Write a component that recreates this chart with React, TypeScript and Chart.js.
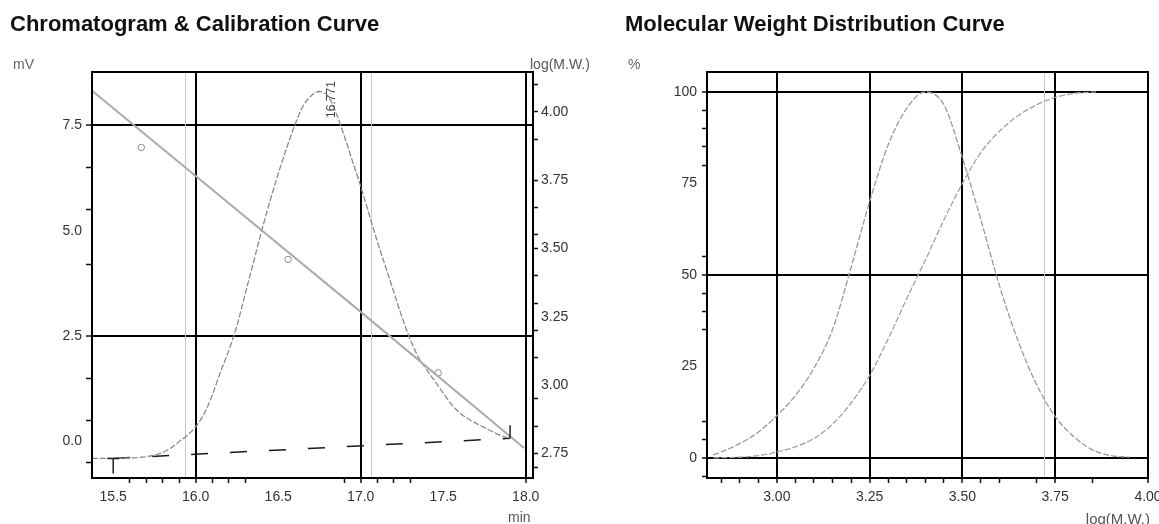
import React, { useEffect, useRef } from "react";
import { Chart, registerables } from "chart.js";

Chart.register(...registerables);

// ---------------- data: chromatogram & calibration ----------------
const chromTime = [15.37, 15.5, 15.6, 15.7, 15.75, 15.8, 15.85, 15.9, 15.95, 16.0, 16.05, 16.1, 16.15, 16.2, 16.25, 16.3, 16.35, 16.4, 16.45, 16.5, 16.55, 16.6, 16.65, 16.7, 16.75, 16.8, 16.85, 16.9, 16.95, 17.0, 17.05, 17.1, 17.15, 17.2, 17.25, 17.3, 17.35, 17.4, 17.45, 17.5, 17.55, 17.6, 17.65, 17.7, 17.75, 17.8, 17.85, 17.905];
const chromMv = [-0.4, -0.4, -0.39, -0.36, -0.32, -0.26, -0.15, 0.0, 0.15, 0.35, 0.65, 1.1, 1.65, 2.15, 2.75, 3.5, 4.25, 5.0, 5.7, 6.35, 6.95, 7.5, 7.95, 8.2, 8.3, 8.2, 7.8, 7.25, 6.65, 6.05, 5.4, 4.75, 4.15, 3.55, 2.95, 2.42, 2.0, 1.7, 1.43, 1.15, 0.88, 0.68, 0.54, 0.43, 0.33, 0.23, 0.14, 0.07];

const baseTime = [15.5, 17.905];
const baseMv = [-0.4, 0.076];

const calTime = [15.37, 16.0, 17.0, 17.99];
const calLog = [4.078, 3.765, 3.268, 2.77];

const stdTime = [15.67, 16.56, 17.47];
const stdLog = [3.87, 3.46, 3.045];

const peakTime = 16.771;
const peakLabel = "16.771";
const windowTimes = [15.935, 17.065];

// ---------------- data: molecular weight distribution ----------------
const bellLogMw = [2.829, 2.85, 2.9, 2.95, 3.0, 3.05, 3.1, 3.15, 3.2, 3.25, 3.3, 3.35, 3.4, 3.45, 3.5, 3.55, 3.6, 3.65, 3.7, 3.75, 3.8, 3.85, 3.9, 3.95];
const bellPct = [0.9, 1.6, 3.9, 7.0, 11.5, 17.0, 24.5, 35, 52, 70, 85.5, 95.5, 100, 96.5, 82, 65, 47, 32, 20, 11.3, 5.8, 2.2, 0.6, 0.2];

const cumLogMw = [2.829, 2.9, 2.95, 3.0, 3.05, 3.1, 3.15, 3.2, 3.25, 3.3, 3.35, 3.4, 3.45, 3.5, 3.55, 3.6, 3.65, 3.7, 3.75, 3.8, 3.86];
const cumPct = [0, 0.2, 0.6, 1.6, 3.0, 5.3, 9.2, 15, 22.5, 32.5, 43.5, 54, 65, 75, 83.5, 89.3, 93.5, 96.5, 98.5, 99.6, 100];

const mwMarkerLines = [3.72];

// ---------------- ticks ----------------
const timeLabels = [15.5, 16.0, 16.5, 17.0, 17.5, 18.0];
const timeMarks = [15.6, 15.7, 15.8, 15.9, 16.0, 16.1, 16.2, 16.3, 16.9, 17.0, 17.1, 17.2, 17.3, 18.0];
const timeGrid = [16.0, 17.0, 18.0];
const mvLabels = [0, 2.5, 5, 7.5];
const mvMarks = [-0.5, 0.5, 1.5, 2.5, 4.2, 5.5, 6.5, 7.5];
const mvGrid = [2.5, 7.5];
const logLabels = [2.75, 3.0, 3.25, 3.5, 3.75, 4.0];
const logMarks = [2.7, 2.75, 2.85, 2.95, 3.1, 3.2, 3.3, 3.4, 3.5, 3.55, 3.65, 3.75, 3.9, 4.0, 4.1];

const mwLabels = [3.0, 3.25, 3.5, 3.75, 4.0];
const mwMarks = [2.85, 2.9, 2.95, 3.0, 3.05, 3.1, 3.15, 3.2, 3.25, 3.3, 3.35, 3.4, 3.45, 3.5, 3.55, 3.6, 3.7, 3.75, 3.85, 4.0];
const mwGrid = [3.0, 3.25, 3.5, 3.75, 4.0];
const pctLabels = [0, 25, 50, 75, 100];
const pctMarks = [-5, 0, 5, 10, 35, 40, 45, 50, 55, 80, 85, 90, 95, 100];
const pctGrid = [0, 50, 100];

// ---------------- helpers ----------------
const FONT = "'Liberation Sans', Arial, sans-serif";
const near = (a: number, b: number) => Math.abs(a - b) < 1e-6;
const has = (arr: number[], v: number) => arr.some((a) => near(a, v));
const union = (...arrs: number[][]) =>
  Array.from(new Set(arrs.flat().map((v) => Math.round(v * 1000) / 1000))).sort((a, b) => a - b);
const pts = (xs: number[], ys: number[]) => xs.map((x, i) => ({ x, y: ys[i] }));

type AxisOpts = {
  min: number; max: number; position: string; marks: number[]; labels: number[]; grid: number[];
  digits: number; size: number; horizontal: boolean; tickLength: number; padding: number; onChart: boolean;
};

function makeAxis(o: AxisOpts) {
  const all = union(o.marks, o.labels, o.grid);
  return {
    type: "linear",
    position: o.position,
    min: o.min,
    max: o.max,
    afterBuildTicks: (s: any) => { s.ticks = all.map((v) => ({ value: v })); },
    afterFit: (s: any) => { if (o.horizontal) s.height = o.size; else s.width = o.size; },
    border: { display: false },
    ticks: {
      autoSkip: false, maxRotation: 0, minRotation: 0, padding: o.padding,
      color: "#333", font: { family: FONT, size: 14 },
      callback: (v: any) => (has(o.labels, Number(v)) ? Number(v).toFixed(o.digits) : ""),
    },
    grid: {
      drawOnChartArea: o.onChart, drawTicks: true, tickLength: o.tickLength, tickWidth: 1.5,
      color: (c: any) => (c.tick && has(o.grid, c.tick.value) ? "#000" : "rgba(0,0,0,0)"),
      lineWidth: (c: any) => (c.tick && has(o.grid, c.tick.value) ? 2 : 1),
      tickColor: (c: any) => (c.tick && (has(o.marks, c.tick.value) || has(o.grid, c.tick.value)) ? "#111" : "rgba(0,0,0,0)"),
    },
  };
}

const framePlugin = {
  id: "frame",
  beforeDatasetsDraw(chart: any, _a: any, opts: any) {
    const { ctx, chartArea: ca, scales } = chart;
    ctx.save();
    ctx.strokeStyle = "#c9c9c9";
    ctx.lineWidth = 1;
    (opts.markers || []).forEach((v: number) => {
      const x = Math.round(scales.x.getPixelForValue(v)) + 0.5;
      ctx.beginPath(); ctx.moveTo(x, ca.top); ctx.lineTo(x, ca.bottom); ctx.stroke();
    });
    ctx.restore();
  },
  afterDraw(chart: any, _a: any, opts: any) {
    const { ctx, chartArea: ca, scales } = chart;
    ctx.save();
    ctx.strokeStyle = "#000";
    ctx.lineWidth = 2;
    ctx.strokeRect(Math.round(ca.left), Math.round(ca.top), Math.round(ca.right - ca.left), Math.round(ca.bottom - ca.top));
    if (opts.base) {
      const xs = scales.x.getPixelForValue(baseTime[0]);
      const ys = scales.y.getPixelForValue(baseMv[0]);
      const xe = scales.x.getPixelForValue(baseTime[1]);
      const ye = scales.y.getPixelForValue(baseMv[1]);
      ctx.strokeStyle = "#222";
      ctx.lineWidth = 1.5;
      ctx.beginPath();
      ctx.moveTo(xs - 6, ys); ctx.lineTo(xs + 6, ys);
      ctx.moveTo(xs, ys); ctx.lineTo(xs, ys + 15);
      ctx.moveTo(xe, ye); ctx.lineTo(xe, ye - 13);
      ctx.stroke();
    }
    if (opts.peak) {
      const idx = chromMv.indexOf(Math.max(...chromMv));
      const px = scales.x.getPixelForValue(peakTime) + 9;
      const py = scales.y.getPixelForValue(chromMv[idx]) + 8;
      ctx.translate(px, py);
      ctx.rotate(-Math.PI / 2);
      ctx.fillStyle = "#444";
      ctx.font = `12px ${FONT}`;
      ctx.textAlign = "center";
      ctx.textBaseline = "middle";
      ctx.fillText(peakLabel, 0, 0);
    }
    ctx.restore();
  },
};

function useChart(ref: React.RefObject<HTMLCanvasElement>, makeConfig: () => any) {
  useEffect(() => {
    if (!ref.current) return;
    const chart = new Chart(ref.current, makeConfig());
    return () => chart.destroy();
  }, []);
}

const lineBase = { showLine: true, pointRadius: 0, fill: false, cubicInterpolationMode: "monotone", tension: 0.4 };

function chromConfig() {
  return {
    type: "scatter",
    data: {
      datasets: [
        { ...lineBase, data: pts(calTime, calLog), yAxisID: "y2", borderColor: "#ababab", borderWidth: 2, cubicInterpolationMode: "default", tension: 0 },
        { type: "scatter", data: pts(stdTime, stdLog), yAxisID: "y2", pointRadius: 3.2, pointStyle: "circle", borderColor: "#8c8c8c", backgroundColor: "rgba(255,255,255,0)", borderWidth: 1 },
        { ...lineBase, data: pts(chromTime, chromMv), yAxisID: "y", borderColor: "#8a8a8a", borderWidth: 1.3, borderDash: [6, 2] },
        { ...lineBase, data: pts(baseTime, baseMv), yAxisID: "y", borderColor: "#1a1a1a", borderWidth: 1.5, borderDash: [17, 22], cubicInterpolationMode: "default", tension: 0 },
      ],
    },
    options: {
      responsive: false, animation: false, events: [],
      layout: { padding: { top: 72, left: 0, right: 0, bottom: 0 } },
      plugins: { legend: { display: false }, tooltip: { enabled: false }, frame: { markers: windowTimes, base: true, peak: true } },
      scales: {
        x: makeAxis({ min: 15.3715, max: 18.044, position: "bottom", marks: timeMarks, labels: timeLabels, grid: timeGrid, digits: 1, size: 46, horizontal: true, tickLength: 5, padding: 6, onChart: true }),
        y: makeAxis({ min: -0.865, max: 8.763, position: "left", marks: mvMarks, labels: mvLabels, grid: mvGrid, digits: 1, size: 92, horizontal: false, tickLength: 6, padding: 4, onChart: true }),
        y2: makeAxis({ min: 2.66, max: 4.146, position: "right", marks: logMarks, labels: logLabels, grid: [], digits: 2, size: 67, horizontal: false, tickLength: 5, padding: 3, onChart: false }),
      },
    },
    plugins: [framePlugin],
  };
}

function mwConfig() {
  return {
    type: "scatter",
    data: {
      datasets: [
        { ...lineBase, data: pts(bellLogMw, bellPct), borderColor: "#9a9a9a", borderWidth: 1.3, borderDash: [6, 2] },
        { ...lineBase, data: pts(cumLogMw, cumPct), borderColor: "#a2a2a2", borderWidth: 1.3, borderDash: [6, 2] },
      ],
    },
    options: {
      responsive: false, animation: false, events: [],
      layout: { padding: { top: 72, left: 0, right: 32, bottom: 0 } },
      plugins: { legend: { display: false }, tooltip: { enabled: false }, frame: { markers: mwMarkerLines } },
      scales: {
        x: makeAxis({ min: 2.812, max: 4.0, position: "bottom", marks: mwMarks, labels: mwLabels, grid: mwGrid, digits: 2, size: 46, horizontal: true, tickLength: 5, padding: 6, onChart: true }),
        y: makeAxis({ min: -5.5, max: 105.45, position: "left", marks: pctMarks, labels: pctLabels, grid: pctGrid, digits: 0, size: 107, horizontal: false, tickLength: 5, padding: 5, onChart: true }),
      },
    },
    plugins: [framePlugin],
  };
}

const txt = (extra: React.CSSProperties): React.CSSProperties => ({
  position: "absolute", fontFamily: FONT, whiteSpace: "nowrap", lineHeight: "1", ...extra,
});

export default function App() {
  const leftRef = useRef<HTMLCanvasElement>(null);
  const rightRef = useRef<HTMLCanvasElement>(null);
  useChart(leftRef, chromConfig);
  useChart(rightRef, mwConfig);
  return (
    <div style={{ position: "fixed", left: 0, top: 0, width: 1159, height: 524, overflow: "hidden", background: "#fff" }}>
      <canvas ref={leftRef} width={600} height={524} style={{ position: "absolute", left: 0, top: 0 }} />
      <canvas ref={rightRef} width={580} height={524} style={{ position: "absolute", left: 600, top: 0 }} />
      <div style={txt({ left: 10, top: 13, fontSize: 22, fontWeight: "bold", color: "#111" })}>Chromatogram &amp; Calibration Curve</div>
      <div style={txt({ left: 625, top: 13, fontSize: 22, fontWeight: "bold", color: "#111" })}>Molecular Weight Distribution Curve</div>
      <div style={txt({ left: 13, top: 57, fontSize: 14, color: "#666" })}>mV</div>
      <div style={txt({ left: 530, top: 57, fontSize: 14, color: "#555" })}>log(M.W.)</div>
      <div style={txt({ left: 628, top: 57, fontSize: 14, color: "#666" })}>%</div>
      <div style={txt({ left: 508, top: 510, fontSize: 14, color: "#555" })}>min</div>
      <div style={txt({ right: 9, top: 511, fontSize: 15, color: "#555" })}>log(M.W.)</div>
    </div>
  );
}
